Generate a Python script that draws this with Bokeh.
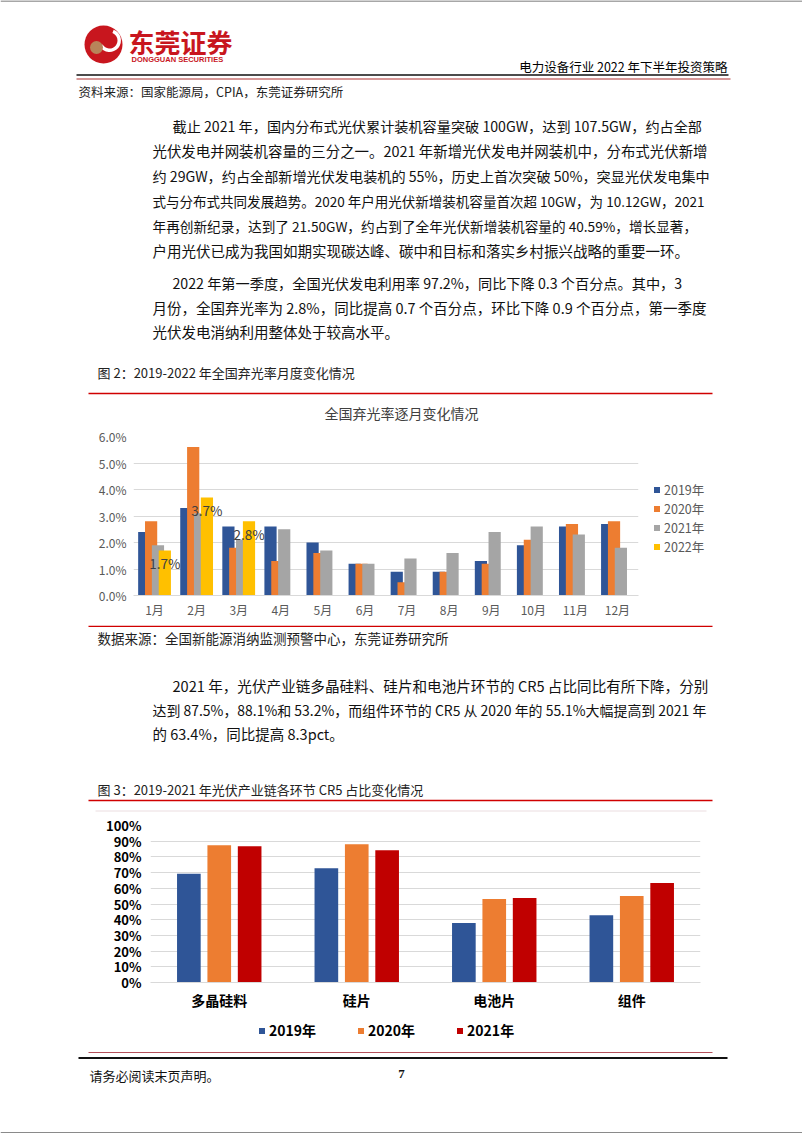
from bokeh.plotting import figure
from bokeh.layouts import column, row
from bokeh.models import (Range1d, FactorRange, Legend, LegendItem, ColumnDataSource,
                          FixedTicker, PrintfTickFormatter)
from bokeh.transform import dodge
from bokeh.core.properties import value
from bokeh.embed import file_html
from bokeh.resources import INLINE

# ---------------- data ----------------
months = ["1月", "2月", "3月", "4月", "5月", "6月", "7月", "8月", "9月", "10月", "11月", "12月"]
curt_2019 = [2.4, 3.3, 2.6, 2.6, 2.0, 1.2, 0.9, 0.9, 1.3, 1.9, 2.6, 2.7]
curt_2020 = [2.8, 5.6, 1.8, 1.3, 1.6, 1.2, 0.5, 0.9, 1.2, 2.1, 2.7, 2.8]
curt_2021 = [1.9, 3.1, 2.1, 2.5, 1.7, 1.2, 1.4, 1.6, 2.4, 2.6, 2.3, 1.8]
months_2022 = ["1月", "2月", "3月"]
curt_2022 = [1.7, 3.7, 2.8]
c1_series = ["2019年", "2020年", "2021年", "2022年"]
c1_ticks = [0, 1, 2, 3, 4, 5, 6]

segments = ["多晶硅料", "硅片", "电池片", "组件"]
cr5_2019 = [69.3, 72.8, 37.9, 42.8]
cr5_2020 = [87.5, 88.1, 53.2, 55.1]
cr5_2021 = [86.8, 84.2, 53.9, 63.4]
c2_series = ["2019年", "2020年", "2021年"]
c2_ticks = [0, 10, 20, 30, 40, 50, 60, 70, 80, 90, 100]

para1 = [
    "截止 2021 年，国内分布式光伏累计装机容量突破 100GW，达到 107.5GW，约占全部",
    "光伏发电并网装机容量的三分之一。2021 年新增光伏发电并网装机中，分布式光伏新增",
    "约 29GW，约占全部新增光伏发电装机的 55%，历史上首次突破 50%，突显光伏发电集中",
    "式与分布式共同发展趋势。2020 年户用光伏新增装机容量首次超 10GW，为 10.12GW，2021",
    "年再创新纪录，达到了 21.50GW，约占到了全年光伏新增装机容量的 40.59%，增长显著，",
    "户用光伏已成为我国如期实现碳达峰、碳中和目标和落实乡村振兴战略的重要一环。",
]
para2 = [
    "2022 年第一季度，全国光伏发电利用率 97.2%，同比下降 0.3 个百分点。其中，3",
    "月份，全国弃光率为 2.8%，同比提高 0.7 个百分点，环比下降 0.9 个百分点，第一季度",
    "光伏发电消纳利用整体处于较高水平。",
]
para3 = [
    "2021 年，光伏产业链多晶硅料、硅片和电池片环节的 CR5 占比同比有所下降，分别",
    "达到 87.5%，88.1%和 53.2%，而组件环节的 CR5 从 2020 年的 55.1%大幅提高到 2021 年",
    "的 63.4%，同比提高 8.3pct。",
]
# font size per line (px), so that the justified lines end near the right margin
para1_sizes = [14.17, 14.45, 14.15, 13.53, 13.65, 14.5]
para2_sizes = [14.2, 14.5, 14.5]
para3_sizes = [14.6, 13.95, 14.5]

W = 802
CJK = "Noto Sans CJK SC"
RED = "#D00000"


def deco(y0, y1, x0=0, x1=W):
    p = figure(width=x1 - x0, height=y1 - y0, x_range=Range1d(x0, x1), y_range=Range1d(y1, y0),
               output_backend="svg", toolbar_location=None, min_border=0,
               x_axis_location=None, y_axis_location=None)
    p.frame_align = False
    p.grid.visible = False
    p.outline_line_color = None
    p.background_fill_color = "white"
    p.border_fill_color = "white"
    return p


def put(p, x, y, s, size, color="#111111", font=CJK, align="left", style="normal"):
    p.text(x=[x], y=[y], text=[s], text_font=value(font), text_font_size=size,
           text_color=color, text_align=align, text_baseline="middle", text_font_style=style)


def hline(p, x0, x1, y, color, w=1.0):
    p.segment(x0=[x0], y0=[y], x1=[x1], y1=[y], line_color=color, line_width=w)


def paragraph(p, lines, sizes, y0, step):
    for i, (s, fs) in enumerate(zip(lines, sizes)):
        put(p, 172 if i == 0 else 152, y0 + i * step, s, f"{fs}px")


def style_axes(fig, size_x, size_y, color, bold):
    for ax in (fig.xaxis, fig.yaxis):
        ax.major_tick_line_color = None
        ax.minor_tick_line_color = None
        ax.major_tick_out = 0
        ax.major_tick_in = 0
        ax.minor_tick_out = 0
        ax.major_label_text_font = CJK
        ax.major_label_text_color = color
        if bold:
            ax.major_label_text_font_style = "bold"
    fig.xaxis.major_label_text_font_size = size_x
    fig.yaxis.major_label_text_font_size = size_y
    fig.yaxis.axis_line_color = None
    fig.xaxis.axis_line_color = "#D9D9D9"


def legend_keys(fig, colors):
    # invisible (size 0) square markers that only feed the legend its colour swatches
    return [fig.scatter(x=[0], y=[0], marker="square", size=0, fill_color=c, line_color=None)
            for c in colors]


# ---------------- top block (0 - 425) ----------------
top = deco(0, 425)
hline(top, 0, W, 0.5, "#8a8a8a", 1.5)
# logo
top.circle(x=[103], y=[44], radius=19, fill_color="#C8161E", line_color=None)
top.annular_wedge(x=[109], y=[40], inner_radius=8, outer_radius=11.5, start_angle=-2.6,
                  end_angle=1.2, fill_color="white", line_color=None)
top.circle(x=[96], y=[47], radius=6.5, fill_color="#B8845A", line_color=None)
put(top, 128, 41, "东莞证券", "26px", color="#C8161E", style="bold")
put(top, 131, 59, "DONGGUAN SECURITIES", "7.5px", color="#C8161E", font="Liberation Sans", style="bold")
put(top, 727, 66, "电力设备行业 2022 年下半年投资策略", "12.5px", color="#000000", align="right")
hline(top, 76, 728, 74.5, "#111111", 1.6)
hline(top, 76, 730, 78.5, "#B03030", 1.2)
put(top, 78, 91, "资料来源：国家能源局，CPIA，东莞证券研究所", "12.5px", color="#222222")
paragraph(top, para1, para1_sizes, 125, 25)
paragraph(top, para2, para2_sizes, 282, 24.5)
put(top, 97, 372, "图 2：2019-2022 年全国弃光率月度变化情况", "13px", color="#222222")
hline(top, 88, 712, 393, RED, 1.6)
put(top, 401, 412, "全国弃光率逐月变化情况", "14px", color="#404040", align="center")

# ---------------- chart 1 (425 - 625) ----------------
C1W = 645
c1 = figure(width=C1W, height=200, x_range=FactorRange(factors=months, range_padding=0),
            y_range=Range1d(0, 6), output_backend="svg", toolbar_location=None,
            min_border_left=133, min_border_right=C1W - 638, min_border_top=11, min_border_bottom=30)
c1.frame_align = False
c1.outline_line_color = None
c1.xgrid.visible = False
c1.ygrid.grid_line_color = "#D9D9D9"
c1.ygrid.ticker = FixedTicker(ticks=c1_ticks)

src1 = ColumnDataSource(dict(m=months, y19=curt_2019, y20=curt_2020, y21=curt_2021))
src22 = ColumnDataSource(dict(m=months_2022, y22=curt_2022, lab=[f"{v}%" for v in curt_2022]))
offs1 = [-0.2445, -0.0815, 0.0815, 0.2445]
cols1 = ["#2F5597", "#ED7D31", "#A5A5A5", "#FFC000"]
bw1 = 0.29
for key, off, col, src in zip(["y19", "y20", "y21", "y22"], offs1, cols1, [src1, src1, src1, src22]):
    c1.vbar(x=dodge("m", off, range=c1.x_range), top=key, width=bw1, source=src,
            fill_color=col, line_color=None)
c1.text(x=dodge("m", offs1[3], range=c1.x_range), y="y22", text="lab", source=src22,
        text_align="center", text_baseline="middle", y_offset=12.5,
        text_font=value(CJK), text_font_size="13.5px", text_color="#404040")

c1.yaxis.ticker = FixedTicker(ticks=c1_ticks)
c1.yaxis.formatter = PrintfTickFormatter(format="%.1f%%")
style_axes(c1, "12px", "12px", "#595959", False)
c1.yaxis.major_label_standoff = 7
c1.xaxis.major_label_standoff = 5

# legend panel for chart 1 (right of the plot)
l1 = deco(425, 625, C1W, W)
rs1 = legend_keys(l1, cols1)
leg1 = Legend(items=[LegendItem(label=s, renderers=[r]) for s, r in zip(c1_series, rs1)],
              location=(4, 69), orientation="vertical",
              label_text_font=CJK, label_text_font_size="12.5px", label_text_color="#595959",
              glyph_width=15, glyph_height=15, label_height=12, spacing=0, padding=0, margin=0,
              border_line_color=None, background_fill_alpha=0, label_standoff=0)
l1.add_layout(leg1)

# ---------------- middle block (625 - 815) ----------------
mid = deco(625, 815)
hline(mid, 88, 712, 625.8, RED, 1.6)
put(mid, 97, 637, "数据来源：全国新能源消纳监测预警中心，东莞证券研究所", "13.5px", color="#222222")
paragraph(mid, para3, para3_sizes, 685, 24)
put(mid, 97, 789, "图 3：2019-2021 年光伏产业链各环节 CR5 占比变化情况", "13px", color="#222222")
hline(mid, 88, 712, 800, RED, 1.6)
hline(mid, 95, 706, 810.5, "#EBDDE0", 1.0)

# ---------------- chart 2 (815 - 1012) ----------------
c2 = figure(width=W, height=197, x_range=FactorRange(factors=segments, range_padding=0),
            y_range=Range1d(0, 100), output_backend="svg", toolbar_location=None,
            min_border_left=150, min_border_right=W - 700, min_border_top=10, min_border_bottom=30)
c2.frame_align = False
c2.outline_line_color = None
c2.xgrid.visible = False
c2.ygrid.grid_line_color = "#D9D9D9"
c2.ygrid.ticker = FixedTicker(ticks=c2_ticks)
src2 = ColumnDataSource(dict(s=segments, a=cr5_2019, b=cr5_2020, c=cr5_2021))
offs2 = [-0.221, 0.0, 0.221]
cols2 = ["#2F5597", "#ED7D31", "#C00000"]
for key, off, col in zip(["a", "b", "c"], offs2, cols2):
    c2.vbar(x=dodge("s", off, range=c2.x_range), top=key, width=0.172, source=src2,
            fill_color=col, line_color=None)
c2.yaxis.ticker = FixedTicker(ticks=c2_ticks)
c2.yaxis.formatter = PrintfTickFormatter(format="%d%%")
style_axes(c2, "14px", "13px", "#000000", True)
c2.yaxis.major_label_standoff = 9
c2.xaxis.major_label_standoff = 7

# legend strip for chart 2 (below the plot)
l2 = deco(1012, 1045)
rs2 = legend_keys(l2, cols2)
leg2 = Legend(items=[LegendItem(label=s, renderers=[r]) for s, r in zip(c2_series, rs2)],
              location=(254, 5), orientation="horizontal",
              label_text_font=CJK, label_text_font_size="14px", label_text_font_style="bold",
              label_text_color="#000000", glyph_width=15, glyph_height=15, label_height=16,
              spacing=37, padding=4, margin=0, border_line_color=None,
              background_fill_alpha=0, label_standoff=0)
l2.add_layout(leg2)

# ---------------- bottom block (1045 - 1133) ----------------
bot = deco(1045, 1133)
hline(bot, 88, 712, 1052, "#B5505A", 1.2)
hline(bot, 78, 727, 1057.5, "#111111", 1.8)
put(bot, 89, 1075, "请务必阅读末页声明。", "13px", color="#111111")
put(bot, 401, 1073, "7", "13px", color="#111111", font="Liberation Serif", align="center", style="bold")
hline(bot, 0, W, 1132.3, "#8a8a8a", 1.5)

layout = column(top, row(c1, l1, spacing=0), mid, c2, l2, bot, spacing=0)
open("out.html", "w").write(file_html(layout, INLINE))
